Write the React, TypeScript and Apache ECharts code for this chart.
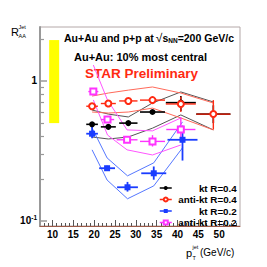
import React, { useEffect, useRef } from 'react';
import * as echarts from 'echarts';

const FONT = '"Liberation Sans", Arial, Helvetica, sans-serif';

// ---- axis ticks ----
const xMajorTicks = [10, 15, 20, 25, 30, 35, 40, 45, 50];
const xMinorTicks = [8, 9, 11, 12, 13, 14, 16, 17, 18, 19, 21, 22, 23, 24, 26, 27, 28, 29, 31, 32, 33, 34, 36, 37, 38, 39, 41, 42, 43, 44, 46, 47, 48, 49, 51, 52, 53, 54];
const yMajorTicks = [0.1, 1];
const yMinorTicks = [0.2, 0.3, 0.4, 0.5, 0.6, 0.7, 0.8, 0.9, 2];

// ---- normalisation band (yellow) ----
const normBand = [[9.2, 11.6, 0.5, 1.96]];

// ---- kt R=0.4 ----
const ktR04X = [19.5, 23.4, 28.2, 34.0, 40.8, 48.6];
const ktR04Y = [0.49, 0.47, 0.50, 0.60, 0.70, 0.58];
const ktR04XErr = [1.4, 1.8, 2.2, 3.0, 3.6, 4.1];
const ktR04YLo = [0.475, 0.455, 0.485, 0.58, 0.61, 0.5];
const ktR04YHi = [0.505, 0.485, 0.515, 0.62, 0.78, 0.67];
const ktR04SysHi = [0.62, 0.58, 0.553, 0.696, 0.835, 0.708];
const ktR04SysLo = [0.398, 0.385, 0.398, 0.46, 0.572, 0.447];

// ---- anti-kt R=0.4 ----
const akR04X = [19.5, 23.4, 28.2, 34.0, 40.8, 48.6];
const akR04Y = [0.66, 0.69, 0.72, 0.73, 0.685, 0.58];
const akR04XErr = [1.4, 1.8, 2.2, 3.0, 3.6, 4.1];
const akR04YLo = [0.64, 0.67, 0.7, 0.71, 0.6, 0.45];
const akR04YHi = [0.68, 0.71, 0.74, 0.75, 0.77, 0.73];
const akR04SysHi = [0.78, 0.82, 0.86, 0.906, 0.82, 0.696];
const akR04SysLo = [0.60, 0.59, 0.60, 0.64, 0.544, 0.447];

// ---- kt R=0.2 ----
const ktR02X = [19.5, 23.1, 28.0, 34.3, 41.2];
const ktR02Y = [0.42, 0.238, 0.174, 0.219, 0.38];
const ktR02XErr = [1.4, 1.9, 2.5, 3.0, 3.6];
const ktR02YLo = [0.39, 0.228, 0.162, 0.197, 0.27];
const ktR02YHi = [0.5, 0.248, 0.19, 0.245, 0.48];
const ktR02SysHi = [0.462, 0.282, 0.21, 0.26, 0.51];
const ktR02SysLo = [0.322, 0.196, 0.144, 0.178, 0.333];

// ---- anti-kt R=0.2 ----
const akR02X = [19.8, 23.2, 27.9, 34.0, 40.8];
const akR02Y = [0.84, 0.53, 0.38, 0.37, 0.45];
const akR02XErr = [1.2, 1.6, 2.5, 3.0, 3.5];
const akR02YLo = [0.81, 0.51, 0.365, 0.34, 0.38];
const akR02YHi = [0.87, 0.55, 0.395, 0.41, 0.55];
const akR02SysHi = [1.3, 0.73, 0.447, 0.44, 0.544];
const akR02SysLo = [0.732, 0.411, 0.322, 0.296, 0.349];

const NAMES = ['kt R=0.4', 'anti-kt R=0.4', 'kt R=0.2', 'anti-kt R=0.2'];

const pairs = (xs: number[], ys: number[]) => xs.map((x, i) => [x, ys[i]]);
const errItems = (xs: number[], ys: number[], xe: number[], lo: number[], hi: number[]) =>
  xs.map((x, i) => [x, ys[i], x - xe[i], x + xe[i], lo[i], hi[i]]);

const errRender = (color: string, width: number) => (_p: any, api: any) => {
  const x = api.value(0);
  const y = api.value(1);
  const a = api.coord([api.value(2), y]);
  const b = api.coord([api.value(3), y]);
  const c = api.coord([x, api.value(4)]);
  const d = api.coord([x, api.value(5)]);
  return {
    type: 'group',
    children: [
      { type: 'line', shape: { x1: a[0], y1: a[1], x2: b[0], y2: b[1] }, style: { stroke: color, lineWidth: width } },
      { type: 'line', shape: { x1: c[0], y1: c[1], x2: d[0], y2: d[1] }, style: { stroke: color, lineWidth: width } },
    ],
  };
};

const sysLine = (xs: number[], ys: number[], color: string) => ({
  type: 'line',
  data: pairs(xs, ys),
  showSymbol: false,
  symbol: 'none',
  silent: true,
  z: 2,
  lineStyle: { color, width: 1 },
});

const errSeries = (data: number[][], color: string, width: number) => ({
  type: 'custom',
  data,
  encode: { x: 0, y: 1 },
  renderItem: errRender(color, width),
  silent: true,
  z: 3,
});

const pointSeries = (name: string, xs: number[], ys: number[], symbol: string, size: number, color: string) => ({
  type: 'line',
  name,
  data: pairs(xs, ys),
  symbol,
  symbolSize: size,
  showAllSymbol: true,
  z: 5,
  lineStyle: { color, width: 1.5, opacity: 0 },
  itemStyle: { color, borderColor: color, borderWidth: symbol.startsWith('empty') ? 1 : 0 },
});

const BLACK = '#000000';
const RED = '#ff2a12';
const BLUE = '#1a3cff';
const MAG = '#ff33ff';

export default function App() {
  const ref = useRef<HTMLDivElement>(null);
  useEffect(() => {
    if (!ref.current) return;
    const chart = echarts.init(ref.current, undefined, { renderer: 'svg' });
    const option: any = {
      animation: false,
      backgroundColor: '#ffffff',
      grid: { left: 40, top: 27, width: 200, height: 199, show: true, borderColor: '#b4a8a8', borderWidth: 1, backgroundColor: 'transparent' },
      xAxis: [
        {
          type: 'value', min: 7, max: 55, position: 'bottom',
          axisLine: { show: true, lineStyle: { color: '#9c5a48', width: 1 } },
          axisTick: { show: true, inside: true, length: 6, customValues: xMajorTicks, lineStyle: { color: '#555' } },
          axisLabel: { customValues: xMajorTicks, margin: 3, fontSize: 10, fontWeight: 'bold', fontFamily: FONT, color: '#000' },
          splitLine: { show: false },
        },
        {
          type: 'value', min: 7, max: 55, position: 'bottom',
          axisLine: { show: false },
          axisTick: { show: true, inside: true, length: 3, customValues: xMinorTicks, lineStyle: { color: '#555' } },
          axisLabel: { show: false },
          splitLine: { show: false },
        },
      ],
      yAxis: [
        {
          type: 'log', logBase: 10, min: 0.092, max: 2.43, position: 'left',
          axisLine: { show: true, lineStyle: { color: '#999', width: 2 } },
          axisTick: { show: true, inside: true, length: 7, customValues: yMajorTicks, lineStyle: { color: '#999', width: 1.5 } },
          axisLabel: {
            customValues: yMajorTicks, margin: 3,
            formatter: (v: number) => (v < 0.5 ? '{b|10}{s|-1}' : '{b|1}'),
            rich: {
              b: { fontSize: 10, fontWeight: 'bold', fontFamily: FONT, color: '#000' },
              s: { fontSize: 6.5, fontWeight: 'bold', fontFamily: FONT, color: '#000', padding: [0, 0, 6, 0] },
            },
          },
          splitLine: { show: false },
        },
        {
          type: 'log', logBase: 10, min: 0.092, max: 2.43, position: 'left',
          axisLine: { show: false },
          axisTick: { show: true, inside: true, length: 4, customValues: yMinorTicks, lineStyle: { color: '#999', width: 1.2 } },
          axisLabel: { show: false },
          splitLine: { show: false },
        },
      ],
      legend: {
        data: NAMES,
        orient: 'vertical',
        left: 154,
        top: 178,
        padding: 5,
        itemWidth: 12,
        itemHeight: 5,
        itemGap: 1.5,
        selectedMode: false,
        lineStyle: { opacity: 1, width: 1.5 },
        formatter: (n: string) => `{t|${n}}`,
        textStyle: {
          rich: { t: { width: 60, align: 'right', fontSize: 9.8, fontWeight: 'bold', fontFamily: FONT, color: '#000', lineHeight: 10 } },
        },
      },
      graphic: [
        {
          type: 'text', x: 64, y: 38, silent: true,
          style: {
            text: '{b|Au+Au and p+p at}{r|√}{b|s}{sub|NN}{b|=200 GeV/c}',
            verticalAlign: 'middle',
            rich: {
              b: { fontSize: 10.5, fontWeight: 'bold', fontFamily: FONT, fill: '#000' },
              r: { fontSize: 12, fontFamily: FONT, fill: '#000', padding: [0, 0, 0, 2] },
              sub: { fontSize: 6.5, fontWeight: 'bold', fontFamily: FONT, fill: '#000', padding: [4, 0, 0, 0] },
            },
          },
        },
        {
          type: 'text', x: 74, y: 57, silent: true,
          style: { text: 'Au+Au: 10% most central', fontSize: 11, fontWeight: 'bold', fontFamily: FONT, fill: '#000', verticalAlign: 'middle' },
        },
        {
          type: 'text', x: 85, y: 73, silent: true,
          style: { text: 'STAR Preliminary', fontSize: 13.5, fontWeight: 'bold', fontFamily: FONT, fill: RED, verticalAlign: 'middle' },
        },
        { type: 'text', x: 11, y: 32, silent: true, style: { text: 'R', fontSize: 11, fontFamily: FONT, fill: '#000', verticalAlign: 'middle' } },
        { type: 'text', x: 18.5, y: 27, silent: true, style: { text: 'Jet', fontSize: 5.5, fontFamily: FONT, fill: '#000', verticalAlign: 'middle' } },
        { type: 'text', x: 18.5, y: 35.5, silent: true, style: { text: 'AA', fontSize: 5.5, fontFamily: FONT, fill: '#000', verticalAlign: 'middle' } },
        { type: 'text', x: 186, y: 253, silent: true, style: { text: 'p', fontSize: 11, fontFamily: FONT, fill: '#000', verticalAlign: 'middle' } },
        { type: 'text', x: 192.5, y: 247, silent: true, style: { text: 'jet', fontSize: 5.5, fontFamily: FONT, fill: '#000', verticalAlign: 'middle' } },
        { type: 'text', x: 192.5, y: 257.5, silent: true, style: { text: 'T', fontSize: 5.5, fontFamily: FONT, fill: '#000', verticalAlign: 'middle' } },
        { type: 'text', x: 200, y: 252, silent: true, style: { text: '(GeV/c)', fontSize: 10, fontFamily: FONT, fill: '#000', verticalAlign: 'middle' } },
      ],
      series: [
        {
          type: 'custom',
          data: normBand,
          encode: { x: [0, 1], y: [2, 3] },
          silent: true,
          z: 1,
          renderItem: (_p: any, api: any) => {
            const p1 = api.coord([api.value(0), api.value(3)]);
            const p2 = api.coord([api.value(1), api.value(2)]);
            return { type: 'rect', shape: { x: p1[0], y: p1[1], width: p2[0] - p1[0], height: p2[1] - p1[1] }, style: { fill: '#ffff00' } };
          },
        },
        sysLine(ktR04X, ktR04SysHi, '#555555'),
        sysLine(ktR04X, ktR04SysLo, '#555555'),
        sysLine(akR04X, akR04SysHi, '#ff6a5a'),
        sysLine(akR04X, akR04SysLo, '#ff6a5a'),
        sysLine(ktR02X, ktR02SysHi, '#5577ff'),
        sysLine(ktR02X, ktR02SysLo, '#5577ff'),
        sysLine(akR02X, akR02SysHi, '#ff55ff'),
        sysLine(akR02X, akR02SysLo, '#ff55ff'),
        errSeries(errItems(ktR04X, ktR04Y, ktR04XErr, ktR04YLo, ktR04YHi), BLACK, 1.6),
        errSeries(errItems(akR04X, akR04Y, akR04XErr, akR04YLo, akR04YHi), RED, 1.4),
        errSeries(errItems(ktR02X, ktR02Y, ktR02XErr, ktR02YLo, ktR02YHi), BLUE, 1.8),
        errSeries(errItems(akR02X, akR02Y, akR02XErr, akR02YLo, akR02YHi), MAG, 1.4),
        pointSeries(NAMES[0], ktR04X, ktR04Y, 'circle', 6, BLACK),
        pointSeries(NAMES[1], akR04X, akR04Y, 'emptyCircle', 6, RED),
        pointSeries(NAMES[2], ktR02X, ktR02Y, 'rect', 6, BLUE),
        pointSeries(NAMES[3], akR02X, akR02Y, 'emptyRect', 6, MAG),
      ],
    };
    chart.setOption(option);
    return () => chart.dispose();
  }, []);
  return <div ref={ref} style={{ position: 'fixed', left: 0, top: 0, width: 267, height: 267 }} />;
}
